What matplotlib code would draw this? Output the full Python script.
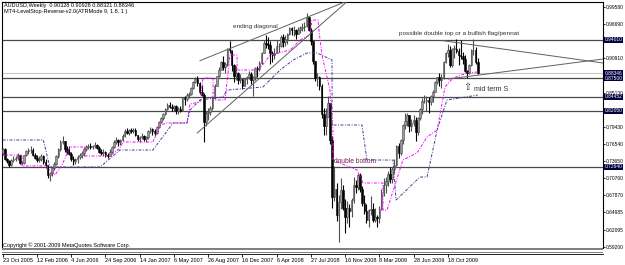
import matplotlib
matplotlib.use('Agg')
import matplotlib.pyplot as plt
from matplotlib.patches import Rectangle

plt.rcParams['font.family'] = ['Liberation Sans', 'DejaVu Sans']

# ---------------- data (weekly AUDUSD, bars from 23 Oct 2005) ----------------
first_open = 0.7500
high = [0.7590, 0.7580, 0.7420, 0.7380, 0.7390, 0.7440, 0.7450, 0.7500, 0.7460, 0.7370,
        0.7470, 0.7550, 0.7580, 0.7620, 0.7590, 0.7500, 0.7460, 0.7440, 0.7480, 0.7460,
        0.7400, 0.7290, 0.7180, 0.7260, 0.7340, 0.7470, 0.7580, 0.7720, 0.7790, 0.7700,
        0.7620, 0.7610, 0.7510, 0.7440, 0.7420, 0.7460, 0.7500, 0.7530, 0.7600, 0.7640,
        0.7650, 0.7660, 0.7640, 0.7680, 0.7650, 0.7620, 0.7570, 0.7560, 0.7530, 0.7500,
        0.7560, 0.7620, 0.7710, 0.7760, 0.7740, 0.7740, 0.7810, 0.7900, 0.7920, 0.7900,
        0.7910, 0.7920, 0.7920, 0.7800, 0.7790, 0.7840, 0.7800, 0.7790, 0.7880, 0.7940,
        0.7910, 0.7900, 0.7950, 0.8040, 0.8110, 0.8170, 0.8250, 0.8340, 0.8350, 0.8320,
        0.8310, 0.8300, 0.8270, 0.8290, 0.8440, 0.8460, 0.8500, 0.8520, 0.8610, 0.8710,
        0.8780, 0.8800, 0.8690, 0.8640, 0.8500, 0.8210, 0.8250, 0.8280, 0.8450, 0.8660,
        0.8800, 0.8950, 0.9050, 0.9120, 0.9020, 0.9270, 0.9380, 0.9220, 0.9000, 0.8960,
        0.8860, 0.8830, 0.8740, 0.8760, 0.8800, 0.8870, 0.8860, 0.8800, 0.8940, 0.8960,
        0.9050, 0.9200, 0.9400, 0.9480, 0.9450, 0.9380, 0.9210, 0.9260, 0.9400, 0.9350,
        0.9480, 0.9500, 0.9480, 0.9520, 0.9620, 0.9620, 0.9630, 0.9580, 0.9610, 0.9640,
        0.9680, 0.9700, 0.9850, 0.9780, 0.9600, 0.9380, 0.9050, 0.8850, 0.8800, 0.8650,
        0.8250, 0.8250, 0.8450, 0.8340, 0.7780, 0.7280, 0.7000, 0.6800, 0.7080, 0.6960,
        0.6720, 0.6690, 0.6640, 0.6750, 0.7100, 0.7050, 0.7160, 0.7160, 0.6950, 0.6800,
        0.6640, 0.6560, 0.6780, 0.6650, 0.6580, 0.6460, 0.6610, 0.6890, 0.7070, 0.7100,
        0.7190, 0.7260, 0.7260, 0.7400, 0.7640, 0.7670, 0.7740, 0.7990, 0.8170, 0.8170,
        0.8140, 0.8070, 0.8140, 0.8100, 0.8110, 0.8260, 0.8420, 0.8480, 0.8460, 0.8440,
        0.8480, 0.8560, 0.8700, 0.8780, 0.8840, 0.8820, 0.9040, 0.9200, 0.9330, 0.9290,
        0.9260, 0.9310, 0.9405, 0.9270, 0.9400, 0.9200, 0.9150, 0.8900, 0.9000, 0.9250,
        0.9405, 0.9280, 0.90928]
low = [0.7470, 0.7380, 0.7330, 0.7270, 0.7280, 0.7340, 0.7370, 0.7380, 0.7310, 0.7290,
       0.7320, 0.7440, 0.7480, 0.7500, 0.7440, 0.7390, 0.7340, 0.7340, 0.7360, 0.7320,
       0.7250, 0.7080, 0.7020, 0.7120, 0.7210, 0.7300, 0.7420, 0.7540, 0.7650, 0.7520,
       0.7480, 0.7460, 0.7370, 0.7290, 0.7320, 0.7330, 0.7400, 0.7410, 0.7450, 0.7530,
       0.7560, 0.7560, 0.7560, 0.7580, 0.7560, 0.7500, 0.7470, 0.7440, 0.7430, 0.7420,
       0.7440, 0.7500, 0.7580, 0.7650, 0.7620, 0.7640, 0.7700, 0.7770, 0.7810, 0.7800,
       0.7830, 0.7840, 0.7780, 0.7700, 0.7680, 0.7740, 0.7700, 0.7690, 0.7740, 0.7840,
       0.7800, 0.7780, 0.7820, 0.7910, 0.8000, 0.8060, 0.8130, 0.8220, 0.8250, 0.8200,
       0.8200, 0.8160, 0.8150, 0.8180, 0.8200, 0.8310, 0.8380, 0.8420, 0.8480, 0.8580,
       0.8670, 0.8620, 0.8490, 0.8450, 0.7680, 0.7960, 0.8050, 0.8140, 0.8220, 0.8400,
       0.8620, 0.8780, 0.8900, 0.8890, 0.8850, 0.8960, 0.9180, 0.8880, 0.8690, 0.8720,
       0.8650, 0.8680, 0.8580, 0.8620, 0.8660, 0.8740, 0.8650, 0.8450, 0.8730, 0.8770,
       0.8880, 0.8990, 0.9170, 0.9270, 0.9250, 0.9000, 0.9020, 0.9070, 0.9170, 0.9200,
       0.9280, 0.9280, 0.9290, 0.9330, 0.9480, 0.9480, 0.9470, 0.9420, 0.9490, 0.9520,
       0.9540, 0.9550, 0.9620, 0.9550, 0.9320, 0.9000, 0.8700, 0.8620, 0.8560, 0.8090,
       0.7800, 0.7800, 0.8100, 0.7650, 0.6580, 0.6700, 0.6350, 0.6010, 0.6550, 0.6540,
       0.6150, 0.6330, 0.6250, 0.6430, 0.6650, 0.6820, 0.6880, 0.6850, 0.6600, 0.6480,
       0.6330, 0.6250, 0.6450, 0.6340, 0.6340, 0.6250, 0.6330, 0.6540, 0.6780, 0.6820,
       0.6950, 0.7000, 0.6990, 0.7160, 0.7280, 0.7420, 0.7460, 0.7650, 0.7900, 0.7950,
       0.7850, 0.7860, 0.7960, 0.7700, 0.7800, 0.8050, 0.8150, 0.8330, 0.8200, 0.8170,
       0.8310, 0.8350, 0.8520, 0.8650, 0.8630, 0.8590, 0.8740, 0.9010, 0.9110, 0.8940,
       0.8950, 0.9090, 0.9170, 0.8980, 0.9080, 0.9000, 0.8860, 0.8760, 0.8830, 0.8960,
       0.9150, 0.9000, 0.88321]
close = [0.7560, 0.7400, 0.7360, 0.7290, 0.7380, 0.7400, 0.7420, 0.7460, 0.7330, 0.7330,
         0.7460, 0.7530, 0.7540, 0.7550, 0.7470, 0.7420, 0.7380, 0.7400, 0.7450, 0.7340,
         0.7290, 0.7120, 0.7160, 0.7250, 0.7320, 0.7440, 0.7560, 0.7680, 0.7700, 0.7570,
         0.7520, 0.7480, 0.7400, 0.7360, 0.7390, 0.7430, 0.7460, 0.7500, 0.7560, 0.7600,
         0.7620, 0.7600, 0.7620, 0.7630, 0.7590, 0.7520, 0.7490, 0.7520, 0.7460, 0.7450,
         0.7520, 0.7600, 0.7690, 0.7720, 0.7680, 0.7720, 0.7790, 0.7860, 0.7840, 0.7880,
         0.7860, 0.7890, 0.7800, 0.7730, 0.7770, 0.7780, 0.7730, 0.7760, 0.7870, 0.7900,
         0.7860, 0.7840, 0.7930, 0.8020, 0.8090, 0.8150, 0.8230, 0.8310, 0.8270, 0.8250,
         0.8280, 0.8200, 0.8240, 0.8210, 0.8420, 0.8400, 0.8480, 0.8490, 0.8590, 0.8690,
         0.8740, 0.8680, 0.8520, 0.8480, 0.8020, 0.8170, 0.8180, 0.8250, 0.8420, 0.8630,
         0.8790, 0.8900, 0.9030, 0.8940, 0.8990, 0.9250, 0.9220, 0.8970, 0.8790, 0.8840,
         0.8720, 0.8740, 0.8630, 0.8740, 0.8780, 0.8830, 0.8720, 0.8770, 0.8920, 0.8910,
         0.9010, 0.9180, 0.9340, 0.9330, 0.9320, 0.9170, 0.9140, 0.9180, 0.9290, 0.9300,
         0.9440, 0.9370, 0.9420, 0.9500, 0.9590, 0.9560, 0.9560, 0.9500, 0.9560, 0.9600,
         0.9610, 0.9630, 0.9780, 0.9570, 0.9380, 0.9040, 0.8760, 0.8780, 0.8620, 0.8150,
         0.7950, 0.8100, 0.8340, 0.7720, 0.6760, 0.6900, 0.6450, 0.6670, 0.6870, 0.6580,
         0.6420, 0.6580, 0.6530, 0.6710, 0.6960, 0.6930, 0.7120, 0.6900, 0.6650, 0.6520,
         0.6380, 0.6540, 0.6560, 0.6380, 0.6420, 0.6400, 0.6560, 0.6820, 0.6960, 0.7030,
         0.7150, 0.7060, 0.7230, 0.7300, 0.7610, 0.7490, 0.7710, 0.7970, 0.8030, 0.8130,
         0.7950, 0.8000, 0.8050, 0.7850, 0.8080, 0.8240, 0.8370, 0.8370, 0.8380, 0.8350,
         0.8450, 0.8530, 0.8690, 0.8770, 0.8720, 0.8780, 0.9020, 0.9170, 0.9230, 0.8980,
         0.9250, 0.9250, 0.9210, 0.9140, 0.9130, 0.9070, 0.8880, 0.8850, 0.8970, 0.9220,
         0.9230, 0.90328, 0.88346]

date_ticks = [0, 16, 32, 48, 64, 80, 96, 112, 128, 144, 160, 176, 192, 208]
date_labels = ['23 Oct 2005', '12 Feb 2006', '4 Jun 2006', '24 Sep 2006', '14 Jan 2007',
               '6 May 2007', '26 Aug 2007', '16 Dec 2007', '6 Apr 2008', '27 Jul 2008',
               '16 Nov 2008', '8 Mar 2009', '28 Jun 2009', '18 Oct 2009']
price_ticks = [0.99580, 0.96690, 0.90910, 0.85130, 0.79430, 0.76540, 0.73650, 0.70760,
               0.67870, 0.64985, 0.62095, 0.59200]
level_lines = [0.94010, 0.87500, 0.84452, 0.82050, 0.72640]
level_labels = ['0.94010', '0.87500', '0.84452', '0.82050', '0.72640']
bid_price = 0.88346

# indicator (LevelStop-Reverse) vertices: bar index, price
fast_bar = [0, 9, 9, 20, 24.4, 27.7, 31.4, 38.5, 38.5, 50.1, 54.8, 56.2, 70.2, 73.5, 76.8, 86.1,
            87.5, 92.2, 93.6, 98.3, 98.3, 103.9, 106.2, 109.5, 109.5, 119.3, 122.6, 124.9,
            134.3, 138.9, 143.6, 144.5, 147.3, 148.3, 149.2, 152.9, 154.3, 154.3, 165.6,
            168.4, 177.7, 177.7, 179.6, 187, 193.6, 198.3, 203, 206.7, 210.4, 216.9, 222]
fast_val = [.7464, .7464, .7280, .7280, .7128, .7296, .7599, .7599, .7448, .7448, .7582, .7683,
            .7683, .7968, .8002, .8002, .8321, .8355, .8758, .8758, .8388, .8388, .9144, .9144,
            .8892, .8892, .9027, .9144, .9228, .9396, .9480, .9732, .9732, .9396, .9144, .8556,
            .7884, .7380, .7212, .6994, .6994, .6540, .6540, .7380, .7498, .7767, .7884, .8607,
            .8758, .8842, .8859]
slow_bar = [0, 19, 22, 45.5, 54.8, 70.2, 79.6, 86.1, 87.5, 92.2, 103, 104.8, 121.6, 129.6,
            135.7, 142.2, 146.9, 153.9, 153.9, 167.9, 170.2, 182.4, 183.8, 195, 198.3, 203,
            207.6, 222]
slow_val = [.7716, .7716, .7263, .7263, .7548, .7548, .8002, .8002, .8220, .8388, .8439, .8556,
            .8607, .8892, .9060, .9178, .9178, .9060, .7968, .7968, .7380, .7380, .6708, .7095,
            .7095, .7884, .8388, .8472]

# trend lines (bar, price) pairs
diag_upper = [(92.2, 0.9049), (161.4, 1.0057)]
diag_lower = [(90.9, 0.7834), (161.4, 1.0057)]
pennant_upper = [(205.7, 0.9385), (280.5, 0.9010)]
pennant_lower = [(208.1, 0.8741), (280.5, 0.9077)]

# ---------------- layout ----------------
W, H = 625, 265
fig = plt.figure(figsize=(W / 100, H / 100), dpi=100)
fig.patch.set_facecolor('white')

L, R, T, B = 2, 603, 2, 248
ax = fig.add_axes([L / W, 1 - B / H, (R - L) / W, (B - T) / H])
ax.set_facecolor('white')
X0, BW = 2.7, 2.14
ax.set_xlim((L - X0) / BW, (R - X0) / BW)
PY, PP = 13, 0.00168
ax.set_ylim(0.985 - (B - PY) * PP, 0.985 + (PY - T) * PP)

n = len(close)
opens = [first_open] + close[:-1]
idx = list(range(n))
ups = [i for i in idx if close[i] >= opens[i]]
dns = [i for i in idx if close[i] < opens[i]]
ax.vlines(ups, [low[i] for i in ups], [high[i] for i in ups], color='#505050', lw=0.8, zorder=3)
ax.vlines(dns, [low[i] for i in dns], [high[i] for i in dns], color='#000000', lw=0.8, zorder=3)
ax.bar(ups, [max(close[i] - opens[i], 0.0008) for i in ups], bottom=[opens[i] for i in ups],
       width=0.75, color='#9a9a9a', edgecolor='#4a4a4a', lw=0.4, zorder=4)
ax.bar(dns, [max(opens[i] - close[i], 0.0008) for i in dns], bottom=[close[i] for i in dns],
       width=0.75, color='#000000', edgecolor='#000000', lw=0.4, zorder=4)

for v in level_lines:
    ax.axhline(v, color='#4a4a4a', lw=0.9, zorder=2)
ax.axhline(bid_price, color='#c8c8c8', lw=0.8, zorder=2)

ax.plot(fast_bar, fast_val, color='#ff00ff', lw=0.7, ls=(0, (3, 1.5, 1, 1.5)), zorder=5)
ax.plot(slow_bar, slow_val, color='#3c3c96', lw=0.7, ls=(0, (3, 1.5, 1, 1.5)), zorder=5)

for seg in (diag_upper, diag_lower, pennant_upper, pennant_lower):
    ax.plot([seg[0][0], seg[1][0]], [seg[0][1], seg[1][1]], color='#606060', lw=0.7, zorder=6)

ax.set_yticks(price_ticks)
ax.set_yticklabels(['%.5f' % v for v in price_ticks])
ax.yaxis.tick_right()
ax.tick_params(axis='y', length=1.5, width=0.6, pad=0.8, labelsize=3.5, colors='#000000')
ax.set_xticks([])
for s in ('top', 'left', 'right'):
    ax.spines[s].set_color('#000000')
    ax.spines[s].set_linewidth(0.8)
ax.spines['bottom'].set_visible(False)

for v, lab in zip(level_lines, level_labels):
    ax.text(1.0025, v, lab, transform=ax.get_yaxis_transform(), ha='left', va='center',
            fontsize=3.5, color='white', zorder=10, clip_on=False,
            bbox=dict(boxstyle='square,pad=0.1', fc='#000040', ec='none'))
ax.text(1.0025, bid_price, '%.5f' % bid_price, transform=ax.get_yaxis_transform(), ha='left',
        va='center', fontsize=3.5, color='white', zorder=9, clip_on=False,
        bbox=dict(boxstyle='square,pad=0.1', fc='#000040', ec='none'))

def fpx(x, y):
    return x / W, 1 - y / H

# bottom separators
for y0, h in ((248, 2), (251.5, 1.6)):
    fig.patches.append(Rectangle(fpx(L, y0 + h), (R - L) / W, h / H, transform=fig.transFigure,
                                 fc='#808080', ec='none'))

dax = fig.add_axes([L / W, 1 - 254 / H, (R - L) / W, 0.5 / H])
dax.set_xlim(ax.get_xlim())
dax.set_yticks([])
for s in ('top', 'left', 'right'):
    dax.spines[s].set_visible(False)
dax.spines['bottom'].set_linewidth(0.6)
dax.set_xticks(date_ticks)
dax.set_xticklabels(date_labels)
dax.tick_params(axis='x', length=2, width=0.6, pad=1, labelsize=4)
for t in dax.get_xticklabels():
    t.set_ha('left')

# texts
fig.text(*fpx(4, 5.5), 'AUDUSD,Weekly  0.90328 0.90928 0.88321 0.88346', fontsize=4,
         va='center', ha='left')
fig.text(*fpx(4, 12), 'MT4-LevelStop-Reverse-v2.0(ATRMode 9, 1.8, 1 )', fontsize=4,
         va='center', ha='left')
fig.text(*fpx(3, 245), 'Copyright \u00a9 2001-2009 MetaQuotes Software Corp.', fontsize=4,
         va='center', ha='left')
fig.text(*fpx(255, 26.5), 'ending diagonal', fontsize=4.6, va='center', ha='center', color='#303030')
fig.text(*fpx(459, 33.5), 'possible double top or a bullish flag/pennat', fontsize=4.6,
         va='center', ha='center', color='#303030')
fig.text(*fpx(467.5, 87.5), '\u21e7', fontsize=7, va='center', ha='center', color='#303030',
         family=['DejaVu Sans'])
fig.text(*fpx(491, 89.5), 'mid term S', fontsize=5, va='center', ha='center', color='#303030')
fig.text(*fpx(355.5, 161.5), 'double bottom', fontsize=4.8, va='center', ha='center',
         color='#702050')

fig.savefig('out.png', dpi=100, facecolor='white')
